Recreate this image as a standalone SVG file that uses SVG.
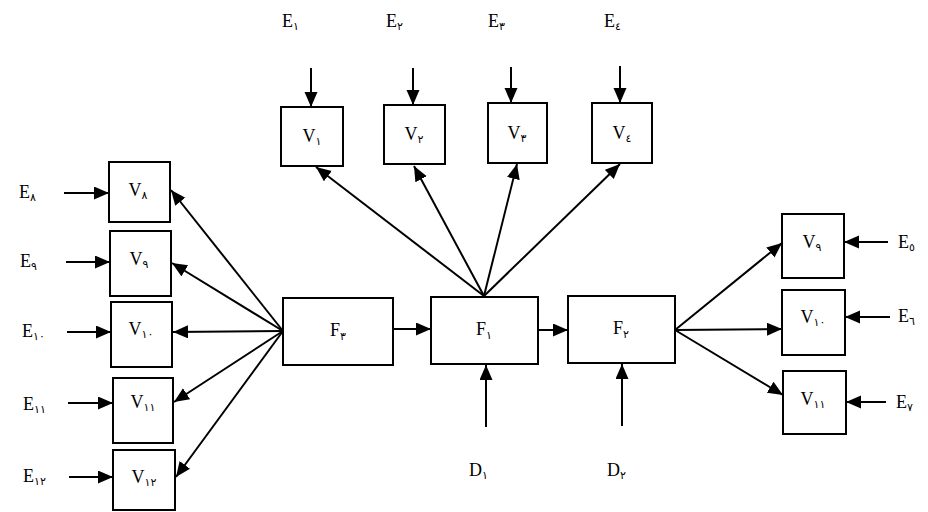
<svg xmlns="http://www.w3.org/2000/svg" width="928" height="512" viewBox="0 0 928 512">
<defs>
<marker id="ah" markerUnits="userSpaceOnUse" markerWidth="16" markerHeight="14" refX="15" refY="6.5" orient="auto">
<path d="M0,0 L15,6.5 L0,13 z" fill="#000"/>
</marker>
<style>
.box{fill:#fff;stroke:#000;stroke-width:2}
.c line{stroke:#000;stroke-width:2;marker-end:url(#ah)}
text{font-family:"Liberation Serif","DejaVu Sans",serif;font-size:18px;fill:#000}
.s{font-family:"DejaVu Sans","Liberation Serif",sans-serif;font-size:11px}
.m{text-anchor:middle}
</style>
</defs>
<rect width="928" height="512" fill="#fff"/>
<g id="V1"><rect class="box" x="281" y="107" width="62" height="59"/><text class="m" x="312" y="142">V<tspan class="s" dy="3">١</tspan></text></g>
<g id="V2"><rect class="box" x="384" y="105" width="61" height="59"/><text class="m" x="414" y="140">V<tspan class="s" dy="3">٢</tspan></text></g>
<g id="V3"><rect class="box" x="488" y="103" width="59" height="60"/><text class="m" x="517" y="139">V<tspan class="s" dy="3">٣</tspan></text></g>
<g id="V4"><rect class="box" x="592" y="103" width="60" height="60"/><text class="m" x="622" y="139">V<tspan class="s" dy="3">٤</tspan></text></g>
<g id="F3"><rect class="box" x="283" y="298" width="110" height="67"/><text class="m" x="338" y="336">F<tspan class="s" dy="4">٣</tspan></text></g>
<g id="F1"><rect class="box" x="431" y="297" width="107" height="67"/><text class="m" x="484" y="335">F<tspan class="s" dy="4">١</tspan></text></g>
<g id="F2"><rect class="box" x="568" y="296" width="107" height="67"/><text class="m" x="621" y="334">F<tspan class="s" dy="4">٢</tspan></text></g>
<g id="V8L"><rect class="box" x="109" y="162" width="61" height="60"/><text class="m" x="138" y="196">V<tspan class="s" dy="3">٨</tspan></text></g>
<g id="V9L"><rect class="box" x="110" y="231" width="61" height="65"/><text class="m" x="139" y="265">V<tspan class="s" dy="3">٩</tspan></text></g>
<g id="V10L"><rect class="box" x="111" y="302" width="61" height="65"/><text class="m" x="141" y="335">V<tspan class="s" dy="3">١٠</tspan></text></g>
<g id="V11L"><rect class="box" x="113" y="378" width="60" height="65"/><text class="m" x="143" y="408">V<tspan class="s" dy="3">١١</tspan></text></g>
<g id="V12L"><rect class="box" x="113" y="450" width="62" height="60"/><text class="m" x="144" y="483">V<tspan class="s" dy="3">١٢</tspan></text></g>
<g id="V9R"><rect class="box" x="782" y="214" width="62" height="64"/><text class="m" x="812" y="248">V<tspan class="s" dy="3">٩</tspan></text></g>
<g id="V10R"><rect class="box" x="782" y="290" width="63" height="65"/><text class="m" x="813" y="323">V<tspan class="s" dy="3">١٠</tspan></text></g>
<g id="V11R"><rect class="box" x="783" y="371" width="63" height="63"/><text class="m" x="813" y="405">V<tspan class="s" dy="3">١١</tspan></text></g>
<g id="labels">
<text x="282" y="27">E<tspan class="s" dy="3">١</tspan></text>
<text x="386" y="27">E<tspan class="s" dy="3">٢</tspan></text>
<text x="488" y="27">E<tspan class="s" dy="3">٣</tspan></text>
<text x="604" y="27">E<tspan class="s" dy="3">٤</tspan></text>
<text x="19" y="198">E<tspan class="s" dy="3">٨</tspan></text>
<text x="20" y="267">E<tspan class="s" dy="3">٩</tspan></text>
<text x="22" y="337">E<tspan class="s" dy="3">١٠</tspan></text>
<text x="23" y="410">E<tspan class="s" dy="3">١١</tspan></text>
<text x="23" y="482">E<tspan class="s" dy="3">١٢</tspan></text>
<text x="898" y="248">E<tspan class="s" dy="3">٥</tspan></text>
<text x="898" y="322">E<tspan class="s" dy="3">٦</tspan></text>
<text x="896" y="408">E<tspan class="s" dy="3">٧</tspan></text>
<text x="469" y="476">D<tspan class="s" dy="3">١</tspan></text>
<text x="607" y="476">D<tspan class="s" dy="3">٢</tspan></text>
</g>
<g id="connectors" class="c">
<line x1="311" y1="68" x2="311" y2="107"/>
<line x1="413" y1="68" x2="413" y2="105"/>
<line x1="511" y1="67" x2="511" y2="103"/>
<line x1="620" y1="66" x2="620" y2="103"/>
<line x1="484" y1="296" x2="316" y2="167"/>
<line x1="484" y1="296" x2="414" y2="166"/>
<line x1="484" y1="296" x2="517" y2="164"/>
<line x1="484" y1="296" x2="620" y2="164"/>
<line x1="393" y1="329" x2="431" y2="329"/>
<line x1="538" y1="330" x2="568" y2="330"/>
<line x1="486" y1="427" x2="486" y2="365"/>
<line x1="622" y1="426" x2="622" y2="364"/>
<line x1="283" y1="331" x2="171" y2="190"/>
<line x1="283" y1="331" x2="172" y2="263"/>
<line x1="283" y1="331" x2="173" y2="332"/>
<line x1="283" y1="331" x2="174" y2="402"/>
<line x1="283" y1="331" x2="176" y2="477"/>
<line x1="64" y1="193" x2="109" y2="193"/>
<line x1="66" y1="262" x2="110" y2="262"/>
<line x1="67" y1="332" x2="111" y2="332"/>
<line x1="68" y1="403" x2="113" y2="403"/>
<line x1="69" y1="477" x2="113" y2="477"/>
<line x1="675" y1="330" x2="782" y2="243"/>
<line x1="675" y1="330" x2="782" y2="329"/>
<line x1="675" y1="330" x2="783" y2="395"/>
<line x1="888" y1="242" x2="844" y2="242"/>
<line x1="890" y1="317" x2="845" y2="317"/>
<line x1="886" y1="402" x2="846" y2="402"/>
</g>
</svg>
